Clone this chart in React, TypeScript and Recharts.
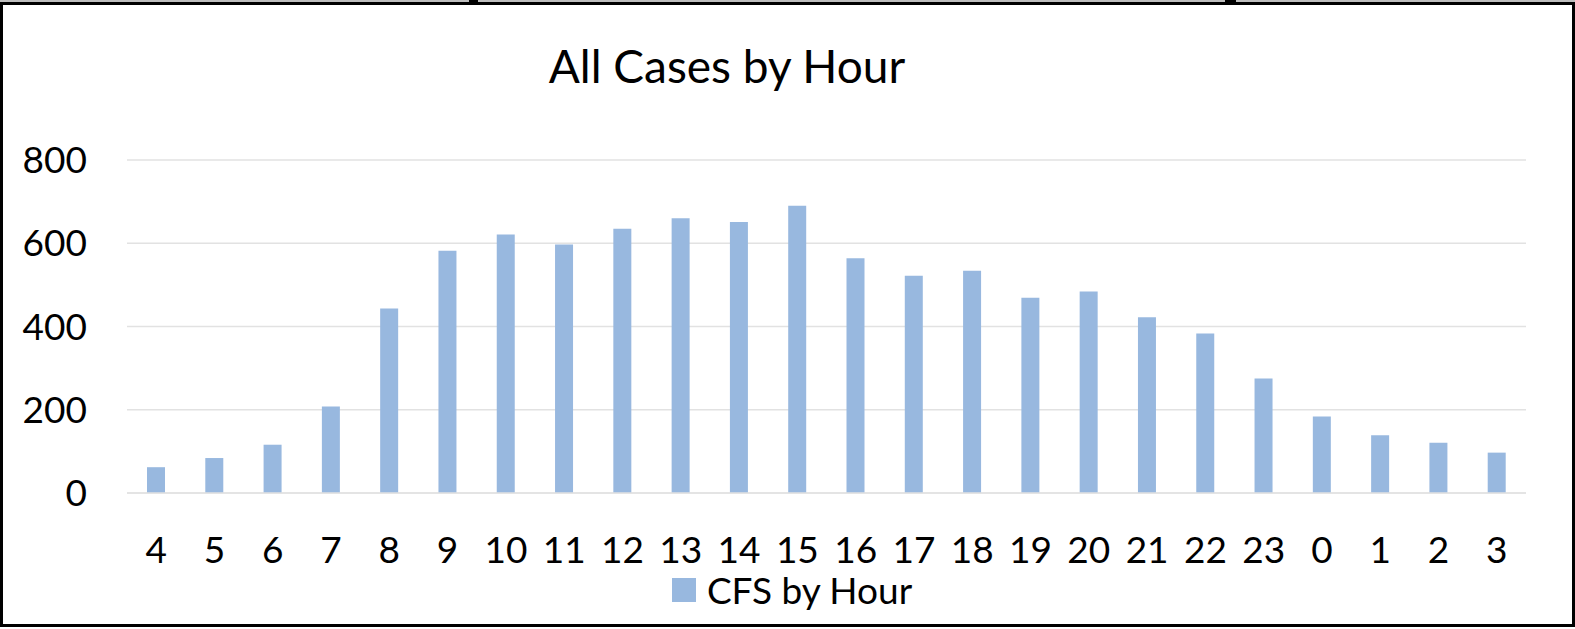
import { BarChart, Bar, XAxis, YAxis, CartesianGrid, Legend } from "recharts";

const hours = ["4", "5", "6", "7", "8", "9", "10", "11", "12", "13", "14", "15", "16", "17", "18", "19", "20", "21", "22", "23", "0", "1", "2", "3"];
const cfsByHour = [62, 84, 116, 208, 443, 582, 621, 597, 635, 660, 651, 690, 564, 522, 534, 469, 484, 422, 383, 275, 184, 139, 121, 97];
const yTicks = [0, 200, 400, 600, 800];

const data = hours.map((h, i) => ({ hour: h, cfs: cfsByHour[i] }));

const FONT = "Lato, 'Open Sans', sans-serif";
const BAR_COLOR = "#98b8df";

function LegendContent() {
  return (
    <div
      style={{
        height: 66,
        display: "flex",
        justifyContent: "center",
        alignItems: "flex-start",
        paddingTop: 8,
        boxSizing: "border-box",
        fontFamily: FONT,
        fontSize: 37,
        color: "#000",
      }}
    >
      <span style={{ display: "inline-block", width: 24, height: 24, background: BAR_COLOR, marginTop: 7, marginRight: 11, marginLeft: 58 }} />
      <span style={{ lineHeight: "37px" }}>CFS by Hour</span>
    </div>
  );
}

export default function App() {
  return (
    <div style={{ position: "absolute", left: 0, top: 0, width: 1575, height: 629, background: "#fff" }}>
      {/* frame */}
      <div style={{ position: "absolute", left: 0, top: 0, width: 1575, height: 2, background: "#bdbdbd" }} />
      <div style={{ position: "absolute", left: 0, top: 2, width: 1575, height: 625, border: "3px solid #000", boxSizing: "border-box" }} />
      <div style={{ position: "absolute", left: 469, top: 0, width: 9, height: 4, background: "#000" }} />
      <div style={{ position: "absolute", left: 1225, top: 0, width: 11, height: 4, background: "#000" }} />
      <div style={{ position: "absolute", left: 0, top: 0 }}>
        <BarChart
          width={1575}
          height={629}
          data={data}
          margin={{ top: 160, right: 49, left: 0, bottom: 0 }}
          barCategoryGap={0}
        >
          <text x={727} y={83} textAnchor="middle" fontFamily={FONT} fontSize={46} fill="#000">
            All Cases by Hour
          </text>
          <CartesianGrid vertical={false} stroke="#e2e2e2" strokeWidth={1.5} />
          <XAxis
            dataKey="hour"
            height={70}
            axisLine={{ stroke: "#e2e2e2", strokeWidth: 1.5 }}
            tickLine={false}
            tickSize={0}
            tickMargin={44}
            interval={0}
            tick={{ fontFamily: FONT, fontSize: 37, fill: "#000" }}
          />
          <YAxis
            width={127}
            domain={[0, 800]}
            ticks={yTicks}
            axisLine={false}
            tickLine={false}
            tickSize={0}
            tickMargin={40}
            tick={{ fontFamily: FONT, fontSize: 37, fill: "#000" }}
          />
          <Legend verticalAlign="bottom" content={() => <LegendContent />} />
          <Bar dataKey="cfs" name="CFS by Hour" fill={BAR_COLOR} barSize={18} isAnimationActive={false} />
        </BarChart>
      </div>
    </div>
  );
}
